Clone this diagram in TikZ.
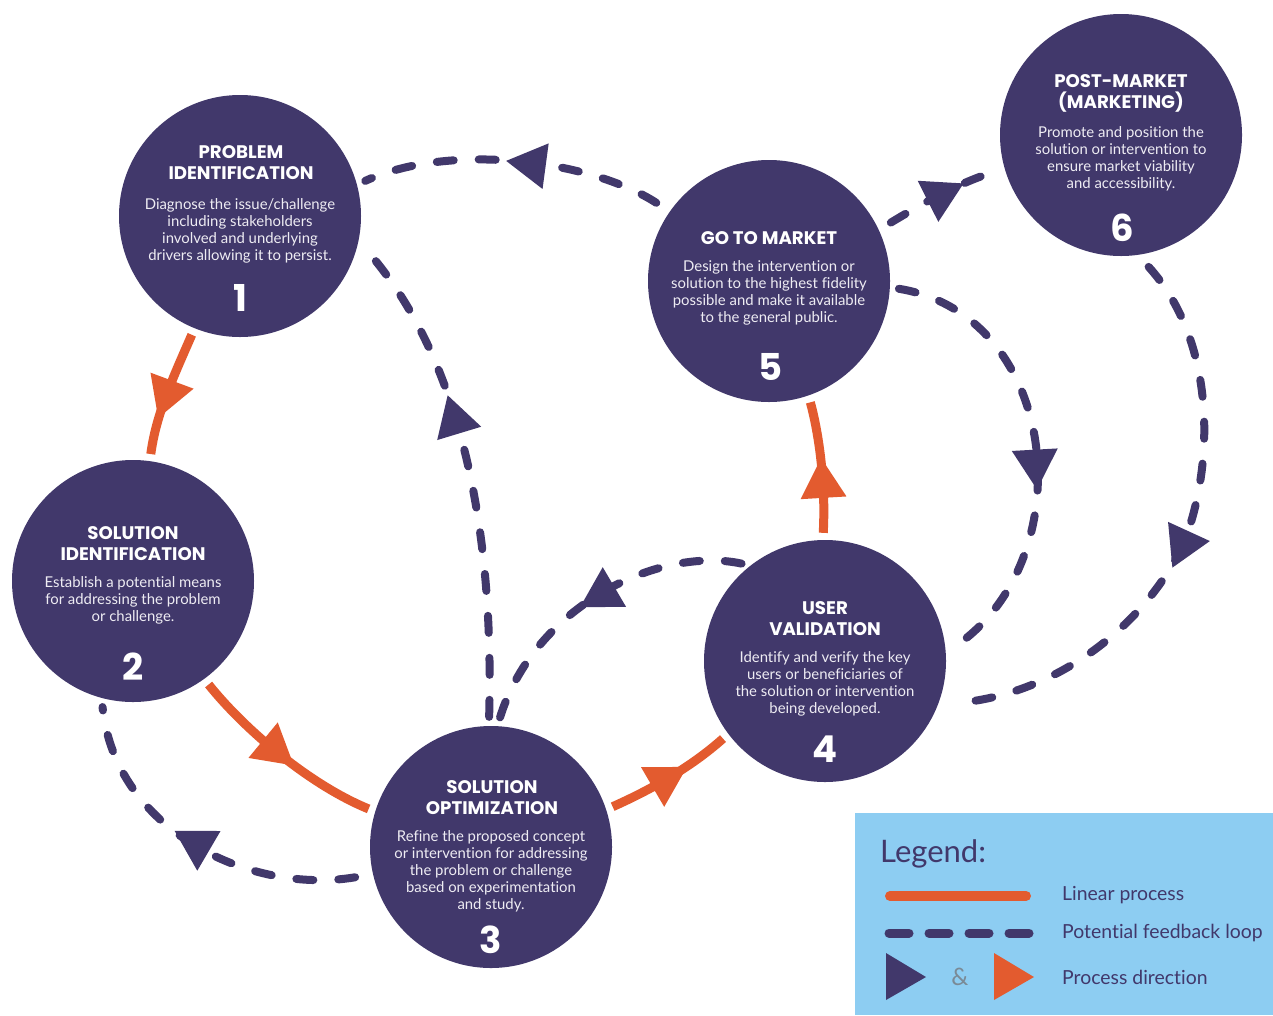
\documentclass[tikz,border=0pt]{standalone}
\usepackage{fontspec}
\setmainfont{Lato}[Ligatures=NoCommon]
\newfontfamily\headfont{Poppins}
\usetikzlibrary{decorations.markings}
\definecolor{navy}{HTML}{41386B}
\definecolor{orng}{HTML}{E35B2F}
\definecolor{sky}{HTML}{8DCDF2}
\definecolor{ampgray}{HTML}{7A8A96}
\definecolor{bodytxt}{HTML}{EEECF3}
\tikzset{
  stage/.style={circle, fill=navy, minimum size=242pt, inner sep=0pt},
  ttl/.style={text=white, font=\headfont\bfseries\fontsize{18.2}{21}\selectfont, align=center, inner sep=0pt},
  bodytext/.style={text=bodytxt, font=\fontsize{14.9}{17}\selectfont, align=center, inner sep=0pt},
  num/.style={text=white, font=\headfont\bfseries\fontsize{37}{37}\selectfont, inner sep=0pt},
  lin/.style={draw=orng, line width=9pt, shorten <=7pt, shorten >=7pt},
  fb/.style={draw=navy, line width=8pt, line cap=round, dash pattern=on 17pt off 25pt, shorten <=9pt, shorten >=9pt},
  tri/.style 2 args={postaction={decorate,decoration={markings,
      mark=at position #1 with {\fill[#2] (26.5,0) -- (-13.3,23) -- (-13.3,-23) -- cycle;}}}},
  legtxt/.style={text=navy, font=\fontsize{19.4}{21}\selectfont, anchor=west, inner sep=0pt},
}
\begin{document}
\begin{tikzpicture}[x=1pt,y=-1pt]
\fill[white] (0,0) rectangle (1273,1015);
\useasboundingbox (0,0) rectangle (1273,1015);

% stages
\node[stage] (c1) at (240,216) {};
\node[stage] (c2) at (133,581) {};
\node[stage] (c3) at (491,847) {};
\node[stage] (c4) at (825,661) {};
\node[stage] (c5) at (769,281) {};
\node[stage] (c6) at (1121,135) {};

% linear process
\draw[lin, tri={0.5}{orng}] (c1.-112) .. controls (172,380) and (156,415) .. (c2.82);
\draw[lin, tri={0.45}{orng}] (c2.-54) .. controls (245,730) and (310,785) .. (c3.163);
\draw[lin, tri={0.45}{orng}] (c3.18) .. controls (650,790) and (690,768) .. (c4.-143);
\draw[lin, tri={0.38}{orng}] (c4.91) .. controls (826,480) and (818,430) .. (c5.-71);

% feedback loops
\draw[fb, shorten <=16pt, tri={0.45}{navy}] (c5.145) .. controls (590,160) and (450,142) .. (c1.15);
\draw[fb, tri={0.6}{navy}] (c3.91) .. controls (494,540) and (465,360) .. (c1.-12);
\draw[fb, shorten <=18pt, tri={0.5}{navy}] (c3.-167) .. controls (250,895) and (115,830) .. (c2.-105);
\draw[fb, tri={0.47}{navy}] (c4.128) .. controls (660,546) and (535,605) .. (c3.87);
\draw[fb, tri={0.53}{navy}] (c5.-3) .. controls (1060,315) and (1085,560) .. (c4.4);
\draw[fb, shorten <=14pt, shorten >=18pt, tri={0.5}{navy}] (c5.25) .. controls (920,205) and (955,185) .. (c6.-164);
\draw[fb, shorten <=16pt, shorten >=17pt, tri={0.5}{navy}] (c6.-82) .. controls (1215,340) and (1215,460) .. (1185,540) .. controls (1150,620) and (1060,695) .. (c4.-21);

% texts
\node[ttl] (t1) at (241,162.5) {PROBLEM\\IDENTIFICATION};
\node[bodytext] (b1) at (240,230.5) {Diagnose the issue/challenge\\including stakeholders\\involved and underlying\\drivers allowing it to persist.};
\node[num] (n1) at (240,298) {1};

\node[ttl] (t2) at (133,544) {SOLUTION\\IDENTIFICATION};
\node[bodytext] (b2) at (133,600) {Establish a potential means\\for addressing the problem\\or challenge.};
\node[num] (n2) at (133,667) {2};

\node[ttl] (t3) at (492,797.5) {SOLUTION\\OPTIMIZATION};
\node[bodytext] (b3) at (491,871) {Refine the proposed concept\\or intervention for addressing\\the problem or challenge\\based on experimentation\\and study.};
\node[num] (n3) at (491,940) {3};

\node[ttl] (t4) at (825,618.5) {USER\\VALIDATION};
\node[bodytext] (b4) at (825,684) {Identify and verify the key\\users or beneficiaries of\\the solution or intervention\\being developed.};
\node[num] (n4) at (825,749) {4};

\node[ttl] (t5) at (769,238) {GO TO MARKET};
\node[bodytext] (b5) at (769,292.5) {Design the intervention or\\solution to the highest fidelity\\possible and make it available\\to the general public.};
\node[num] (n5) at (771,367) {5};

\node[ttl] (t6) at (1121,93.5) {POST-MARKET\\(MARKETING)};
\node[bodytext] (b6) at (1121,159) {Promote and position the\\solution or intervention to\\ensure market viability\\and accessibility.};
\node[num] (n6) at (1122,228) {6};

% legend
\node[fill=sky, minimum width=418pt, minimum height=202pt, inner sep=0pt, anchor=north west] (leg) at (855,813) {};
\node[text=navy, font=\fontsize{31}{33}\selectfont, anchor=west, inner sep=0pt] (legt) at (880,854) {Legend:};
\coordinate (la1) at (890,896);
\coordinate (la2) at (1026,896);
\draw[draw=orng, line width=10pt, line cap=round] (la1) -- (la2);
\coordinate (lb1) at (889,933);
\coordinate (lb2) at (1029,933);
\draw[draw=navy, line width=9pt, line cap=round, dash pattern=on 20pt off 20pt] (lb1) -- (lb2);
\fill[navy] (886,953) -- (926,977) -- (886,1000) -- cycle;
\node[text=ampgray, font=\fontsize{24}{26}\selectfont, inner sep=0pt] (amp) at (960,977) {\&};
\fill[orng] (994,953) -- (1034,977) -- (994,1000) -- cycle;
\node[legtxt] (lt1) at (1062,895) {Linear process};
\node[legtxt] (lt2) at (1062,933) {Potential feedback loop};
\node[legtxt] (lt3) at (1062,977) {Process direction};
\end{tikzpicture}
\end{document}
